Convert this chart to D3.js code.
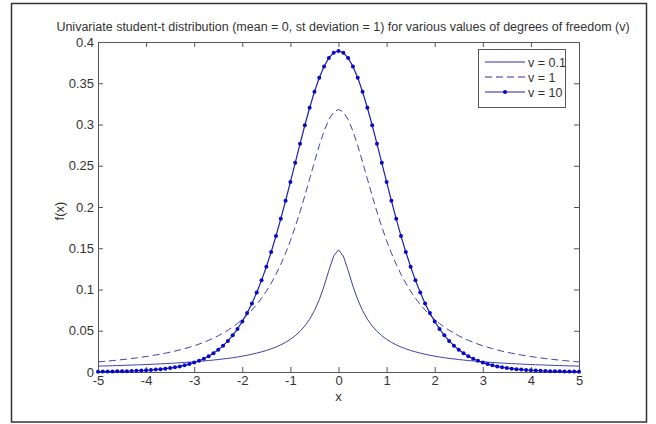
<!DOCTYPE html>
<html>
<head>
<meta charset="utf-8">
<script src="https://cdn.jsdelivr.net/npm/d3@7/dist/d3.min.js"></script>
<style>
  body { margin: 0; background: #fff; }
  svg text { font-family: "Liberation Sans", Arial, sans-serif; fill: #333; }
</style>
</head>
<body>
<svg id="chart"></svg>
<script>
// sample positions, -5 .. 5 step 0.1
const xs = [-5.0,-4.9,-4.8,-4.7,-4.6,-4.5,-4.4,-4.3,-4.2,-4.1,-4.0,-3.9,-3.8,-3.7,-3.6,-3.5,-3.4,-3.3,-3.2,-3.1,
  -3.0,-2.9,-2.8,-2.7,-2.6,-2.5,-2.4,-2.3,-2.2,-2.1,-2.0,-1.9,-1.8,-1.7,-1.6,-1.5,-1.4,-1.3,-1.2,-1.1,
  -1.0,-0.9,-0.8,-0.7,-0.6,-0.5,-0.4,-0.3,-0.2,-0.1,0.0,0.1,0.2,0.3,0.4,0.5,0.6,0.7,0.8,0.9,
  1.0,1.1,1.2,1.3,1.4,1.5,1.6,1.7,1.8,1.9,2.0,2.1,2.2,2.3,2.4,2.5,2.6,2.7,2.8,2.9,
  3.0,3.1,3.2,3.3,3.4,3.5,3.6,3.7,3.8,3.9,4.0,4.1,4.2,4.3,4.4,4.5,4.6,4.7,4.8,4.9,5.0];

// v = 0.1
const v01 = [.0071,.0073,.0074,.0076,.0078,.0080,.0082,.0084,.0086,.0088,.0091,.0093,.0096,.0099,.0102,.0105,.0108,.0112,.0116,.0120,
  .0124,.0129,.0134,.0139,.0145,.0151,.0158,.0165,.0173,.0182,.0192,.0203,.0215,.0229,.0244,.0261,.0281,.0303,.0329,.0360,
  .0396,.0440,.0493,.0558,.0640,.0744,.0876,.1041,.1231,.1406,.1481,.1406,.1231,.1041,.0876,.0744,.0640,.0558,.0493,.0440,
  .0396,.0360,.0329,.0303,.0281,.0261,.0244,.0229,.0215,.0203,.0192,.0182,.0173,.0165,.0158,.0151,.0145,.0139,.0134,.0129,
  .0124,.0120,.0116,.0112,.0108,.0105,.0102,.0099,.0096,.0093,.0091,.0088,.0086,.0084,.0082,.0080,.0078,.0076,.0074,.0073,.0071];

// v = 1
const v1 = [.0122,.0127,.0132,.0138,.0144,.0150,.0156,.0163,.0171,.0179,.0187,.0196,.0206,.0217,.0228,.0240,.0253,.0268,.0283,.0300,
  .0318,.0338,.0360,.0384,.0410,.0439,.0471,.0506,.0545,.0588,.0637,.0691,.0751,.0818,.0894,.0979,.1075,.1183,.1305,.1440,
  .1592,.1759,.1941,.2136,.2341,.2546,.2744,.2920,.3061,.3152,.3183,.3152,.3061,.2920,.2744,.2546,.2341,.2136,.1941,.1759,
  .1592,.1440,.1305,.1183,.1075,.0979,.0894,.0818,.0751,.0691,.0637,.0588,.0545,.0506,.0471,.0439,.0410,.0384,.0360,.0338,
  .0318,.0300,.0283,.0268,.0253,.0240,.0228,.0217,.0206,.0196,.0187,.0179,.0171,.0163,.0156,.0150,.0144,.0138,.0132,.0127,.0122];

// v = 10
const v10 = [.0004,.0005,.0005,.0006,.0008,.0009,.0010,.0012,.0015,.0017,.0020,.0024,.0029,.0034,.0040,.0048,.0057,.0068,.0081,.0096,
  .0114,.0136,.0161,.0192,.0227,.0269,.0319,.0377,.0444,.0522,.0612,.0714,.0831,.0963,.1111,.1276,.1454,.1648,.1857,.2076,
  .2304,.2535,.2766,.2991,.3203,.3397,.3566,.3704,.3807,.3870,.3891,.3870,.3807,.3704,.3566,.3397,.3203,.2991,.2766,.2535,
  .2304,.2076,.1857,.1648,.1454,.1276,.1111,.0963,.0831,.0714,.0612,.0522,.0444,.0377,.0319,.0269,.0227,.0192,.0161,.0136,
  .0114,.0096,.0081,.0068,.0057,.0048,.0040,.0034,.0029,.0024,.0020,.0017,.0015,.0012,.0010,.0009,.0008,.0006,.0005,.0005,.0004];

const xTicks = [-5, -4, -3, -2, -1, 0, 1, 2, 3, 4, 5];
const yTicks = [0, 0.05, 0.1, 0.15, 0.2, 0.25, 0.3, 0.35, 0.4];
const legendLabels = ['v = 0.1', 'v = 1', 'v = 10'];
const title = 'Univariate student-t distribution (mean = 0, st deviation = 1) for various values of degrees of freedom (v)';

const width = 656, height = 424;
const margin = { top: 42, right: 77, bottom: 52, left: 98 };
const axisColor = '#555';
const fontSize = '13px';

const svg = d3.select('#chart')
  .attr('width', width)
  .attr('height', height);

// figure frame
svg.append('rect')
  .attr('x', 11.5).attr('y', 3.5)
  .attr('width', 635).attr('height', 418.5)
  .attr('fill', '#fff')
  .attr('stroke', '#333')
  .attr('stroke-width', 1.5);

const x = d3.scaleLinear().domain([-5, 5]).range([margin.left, width - margin.right]);
const y = d3.scaleLinear().domain([0, 0.4]).range([height - margin.bottom, margin.top]);

const fmt = d => d === 0 ? '0' : String(d);

// axes, MATLAB style: inward ticks on every side
function styleAxis(g) {
  g.select('.domain').attr('stroke', axisColor);
  g.selectAll('.tick line').attr('stroke', axisColor);
  g.selectAll('.tick text').style('font-size', fontSize).attr('fill', '#333');
}

svg.append('g')
  .attr('transform', `translate(0,${y(0)})`)
  .call(d3.axisBottom(x).tickValues(xTicks).tickFormat(fmt).tickSizeInner(-5).tickSizeOuter(0).tickPadding(4))
  .call(styleAxis);

svg.append('g')
  .attr('transform', `translate(0,${y(0.4)})`)
  .call(d3.axisTop(x).tickValues(xTicks).tickFormat('').tickSizeInner(-5).tickSizeOuter(0))
  .call(styleAxis);

svg.append('g')
  .attr('transform', `translate(${x(-5)},0)`)
  .call(d3.axisLeft(y).tickValues(yTicks).tickFormat(fmt).tickSizeInner(-5).tickSizeOuter(0).tickPadding(4))
  .call(styleAxis);

svg.append('g')
  .attr('transform', `translate(${x(5)},0)`)
  .call(d3.axisRight(y).tickValues(yTicks).tickFormat('').tickSizeInner(-5).tickSizeOuter(0))
  .call(styleAxis);

// curves
const line = d3.line()
  .x((d, i) => x(xs[i]))
  .y(d => y(d));

svg.append('path')
  .datum(v01)
  .attr('fill', 'none')
  .attr('stroke', '#4040aa')
  .attr('stroke-width', 1)
  .attr('d', line);

svg.append('path')
  .datum(v1)
  .attr('fill', 'none')
  .attr('stroke', '#4040aa')
  .attr('stroke-width', 1)
  .attr('stroke-dasharray', '7,4')
  .attr('d', line);

svg.append('path')
  .datum(v10)
  .attr('fill', 'none')
  .attr('stroke', '#2020a8')
  .attr('stroke-width', 1.2)
  .attr('d', line);

svg.selectAll('.dot')
  .data(v10)
  .enter()
  .append('circle')
  .attr('class', 'dot')
  .attr('cx', (d, i) => x(xs[i]))
  .attr('cy', d => y(d))
  .attr('r', 2)
  .attr('fill', '#0808c8');

// labels
svg.append('text')
  .attr('x', 343)
  .attr('y', 31)
  .attr('text-anchor', 'middle')
  .style('font-size', '12.5px')
  .text(title);

svg.append('text')
  .attr('x', x(0))
  .attr('y', 401)
  .attr('text-anchor', 'middle')
  .style('font-size', fontSize)
  .text('x');

svg.append('text')
  .attr('transform', `translate(64,${(y(0) + y(0.4)) / 2 + 4}) rotate(-90)`)
  .attr('text-anchor', 'middle')
  .style('font-size', fontSize)
  .text('f(x)');

// legend
const legend = svg.append('g').attr('transform', 'translate(478,49)');
legend.append('rect')
  .attr('x', 0.5).attr('y', 0.5)
  .attr('width', 87).attr('height', 58)
  .attr('fill', '#fff')
  .attr('stroke', axisColor);

const styles = [
  { stroke: '#2a2aa0', dash: null, dot: false },
  { stroke: '#2a2aa0', dash: '7,4', dot: false },
  { stroke: '#2020a8', dash: null, dot: true }
];

legendLabels.forEach((label, i) => {
  const ly = 13 + i * 15;
  legend.append('line')
    .attr('x1', 7).attr('x2', 47)
    .attr('y1', ly).attr('y2', ly)
    .attr('stroke', styles[i].stroke)
    .attr('stroke-width', 1)
    .attr('stroke-dasharray', styles[i].dash);
  if (styles[i].dot) {
    legend.append('circle')
      .attr('cx', 27).attr('cy', ly).attr('r', 2)
      .attr('fill', '#0808c8');
  }
  legend.append('text')
    .attr('x', 50)
    .attr('y', ly + 4.5)
    .style('font-size', '12.5px')
    .text(label);
});
</script>
</body>
</html>
